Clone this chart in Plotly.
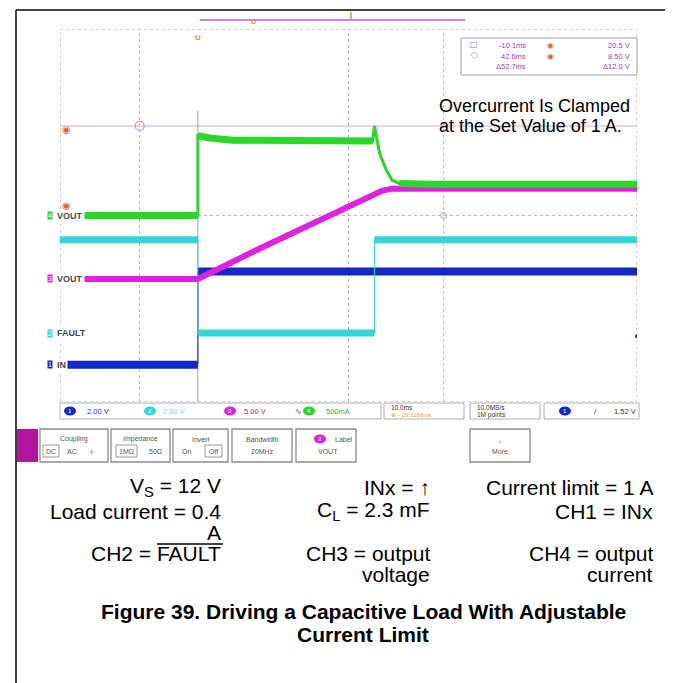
import plotly.graph_objects as go

W, H = 673, 683
FONT = "Liberation Sans, Arial, sans-serif"
OFF = 8  # the page body margin shifts the drawing by 8 px

# ---------------- data ----------------
time_range_ms = [-23.9, 76.1]          # 10 ms/div, 10 divisions

t_ch1 = [-23.9, 0.0, 0.0, 76.1]        # CH1 = INx (V)
v_ch1 = [0.0, 0.0, 5.0, 5.0]

t_ch2 = [-23.9, 0.0, 0.0, 30.6, 30.6, 76.1]   # CH2 = FAULT (V)
v_ch2 = [5.0, 5.0, 0.0, 0.0, 5.0, 5.0]

t_ch3 = [-23.9, 0.0, 10.0, 20.0, 25.0, 30.0, 32.0, 33.7, 76.1]   # CH3 = VOUT (V)
v_ch3 = [0.0, 0.0, 3.8, 7.55, 9.4, 11.2, 11.85, 12.1, 12.1]

t_ch4 = [-23.9, 0.0, 0.0, 2.0, 6.0, 15.0, 25.0, 30.3, 30.6, 31.5, 32.7, 33.7, 34.9, 40.0, 76.1]  # CH4 = IOUT (A)
v_ch4 = [0.0, 0.0, 1.07, 1.04, 1.01, 1.0, 0.99, 1.0, 1.2, 0.83, 0.60, 0.47, 0.43, 0.42, 0.42]

cursor_t_ms = [-10.1, 42.6]
cursor_v = [20.5, 8.5]
trigger_level_v = 1.52

ch_labels = ["IN", "FAULT", "VOUT", "VOUT"]
ch_scale_per_div = [2.0, 2.0, 5.0, 0.5]
ch_scale_text = ["2.00 V", "2.00 V", "5.00 V", "500mA"]
ch_ground_div = [1.0, 1.85, 3.30, 5.0]     # ground marker position (div from bottom)

# ---------------- style ----------------
ch_color = ["#1428c8", "#33d6d6", "#de22de", "#2bd62b"]
ch_width = [8, 7, 6, 7]
ch_thin_width = [1, 1, 1, 3]
ch_thin_span = [None, None, None, (30.3, 34.9)]   # span drawn only with the thinner stroke
ch_axis = ["y2", "y3", "y4", "y5"]
draw_order = [1, 0, 2, 3]

GX0, GX1, GY0, GY1 = 60, 637, 29, 402   # graticule in picture pixels


def X(px):
    return (px - OFF) / W


def Y(py):
    return 1 - (py - OFF) / H


fig = go.Figure()


def thick_path(t, v, span):
    xs, ys = [], []
    prev_t = None
    for ti, vi in zip(t, v):
        if span is not None and span[0] < ti < span[1]:
            if xs and xs[-1] is not None:
                xs.append(None)
                ys.append(None)
            prev_t = None
            continue
        if prev_t is not None and ti == prev_t:
            xs.append(None)
            ys.append(None)
        xs.append(ti)
        ys.append(vi)
        prev_t = ti
    return xs, ys


data_t = [t_ch1, t_ch2, t_ch3, t_ch4]
data_v = [v_ch1, v_ch2, v_ch3, v_ch4]

for i in draw_order:
    xs, ys = thick_path(data_t[i], data_v[i], ch_thin_span[i])
    fig.add_trace(go.Scatter(x=data_t[i], y=data_v[i], yaxis=ch_axis[i], mode="lines",
                             line=dict(color=ch_color[i], width=ch_thin_width[i]), hoverinfo="skip"))
    fig.add_trace(go.Scatter(x=xs, y=ys, yaxis=ch_axis[i], mode="lines",
                             line=dict(color=ch_color[i], width=ch_width[i]), hoverinfo="skip"))

# cursor intersection markers
fig.add_trace(go.Scatter(x=[cursor_t_ms[0]], y=[cursor_v[0]], yaxis="y4", mode="markers",
                         marker=dict(symbol="circle-open", size=9, color="#c98ad6", line=dict(width=1.2)),
                         hoverinfo="skip"))
fig.add_trace(go.Scatter(x=[cursor_t_ms[1]], y=[cursor_v[1]], yaxis="y4", mode="markers",
                         marker=dict(symbol="circle-open", size=6, color="#b8a0c0", line=dict(width=1)),
                         hoverinfo="skip"))
# trigger level marker (right edge)
fig.add_trace(go.Scatter(x=[time_range_ms[1]], y=[trigger_level_v], yaxis="y2", mode="markers",
                         marker=dict(symbol="circle", size=4, color="#1428c8"), hoverinfo="skip"))

shapes = []
ann = []


def note(**kw):
    d = dict(showarrow=False, xanchor="center", yanchor="middle")
    d.update(kw)
    ann.append(d)


def text(x, y, s, size=7.5, color="#444444", xanchor="left", family=FONT):
    note(xref="paper", yref="paper", x=X(x), y=Y(y), xanchor=xanchor, text=s,
         font=dict(family=family, size=size, color=color))


# ---- graticule ----
shapes.append(dict(type="rect", xref="x", yref="y", x0=time_range_ms[0], x1=time_range_ms[1], y0=0, y1=10,
                   line=dict(color="#a8a8a8", width=1, dash="dot"), layer="below"))
tc = (time_range_ms[0] + time_range_ms[1]) / 2
shapes.append(dict(type="line", xref="x", yref="y", x0=tc, x1=tc, y0=0, y1=10,
                   line=dict(color="#a8a8a8", width=1, dash="dot"), layer="below"))
shapes.append(dict(type="line", xref="x", yref="y", x0=time_range_ms[0], x1=time_range_ms[1], y0=5, y1=5,
                   line=dict(color="#b0b0b0", width=1, dash="dot"), layer="below"))
# time cursors
for ct in cursor_t_ms:
    shapes.append(dict(type="line", xref="x", yref="y", x0=ct, x1=ct, y0=0, y1=10,
                       line=dict(color="#b4b4b4", width=1, dash="dot"), layer="below"))
# voltage cursors (on CH3)
shapes.append(dict(type="line", xref="x", yref="y4", x0=time_range_ms[0], x1=time_range_ms[1],
                   y0=cursor_v[0], y1=cursor_v[0], line=dict(color="#cbb0d6", width=1.2), layer="below"))
shapes.append(dict(type="line", xref="x", yref="y4", x0=time_range_ms[0], x1=time_range_ms[1],
                   y0=cursor_v[1], y1=cursor_v[1], line=dict(color="#b8b8b8", width=1, dash="dot"), layer="below"))
# trigger time line
shapes.append(dict(type="line", xref="x", yref="y", x0=0, x1=0, y0=0, y1=7.8,
                   line=dict(color="#a0a0a0", width=1), layer="below"))

# ---- page frame ----
shapes.append(dict(type="line", xref="paper", yref="paper", x0=X(16), x1=1, y0=Y(10), y1=Y(10),
                   line=dict(color="black", width=1.5)))
shapes.append(dict(type="line", xref="paper", yref="paper", x0=X(16), x1=X(16), y0=Y(10), y1=0,
                   line=dict(color="black", width=1.5)))

# ---- record bar on top ----
shapes.append(dict(type="line", xref="paper", yref="paper", x0=X(200), x1=X(465), y0=Y(20), y1=Y(20),
                   line=dict(color="#c58ad0", width=2)))
shapes.append(dict(type="line", xref="paper", yref="paper", x0=X(351), x1=X(351), y0=Y(12), y1=Y(19),
                   line=dict(color="#e8902c", width=1.5)))
text(253, 22, "<b>U</b>", size=7, color="#e8902c", xanchor="center")
note(xref="x", yref="paper", x=0, y=Y(38), text="<b>U</b>", font=dict(family=FONT, size=8, color="#e8902c"))

# ---- channel ground labels ----
for i in range(4):
    note(xref="paper", yref=ch_axis[i], x=X(47), y=0, xanchor="left", text=str(i + 1),
         font=dict(family=FONT, size=7, color="white"), bgcolor=ch_color[i], borderpad=0)
    note(xref="paper", yref=ch_axis[i], x=X(55), y=0, xanchor="left", text="<b>" + ch_labels[i] + "</b>",
         font=dict(family=FONT, size=9, color="#4a4a4a"), bgcolor="white", borderpad=1)

# cursor handles
note(xref="paper", yref="y4", x=X(66), y=cursor_v[0], yshift=-4, text="◉",
     font=dict(family="DejaVu Sans", size=10, color="#e8602c"))
note(xref="paper", yref="y4", x=X(66), y=cursor_v[1], yshift=10, text="◉",
     font=dict(family="DejaVu Sans", size=10, color="#e8602c"))

# ---- cursor readout box ----
shapes.append(dict(type="rect", xref="paper", yref="paper", x0=X(461), x1=X(637), y0=Y(75), y1=Y(38),
                   line=dict(color="#a0a0a0", width=1), fillcolor="white"))
dt = cursor_t_ms[1] - cursor_t_ms[0]
dv = cursor_v[0] - cursor_v[1]
t_rows = [f"{cursor_t_ms[0]:.1f}ms", f"{cursor_t_ms[1]:.1f}ms", f"Δ{dt:.1f}ms"]
v_rows = [f"{cursor_v[0]:.1f} V", f"{cursor_v[1]:.2f} V", f"Δ{dv:.1f} V"]
for k, yy in enumerate([45, 56, 67]):
    text(528, yy, t_rows[k], size=7.5, color="#a83aa8", xanchor="right")
    text(632, yy, v_rows[k], size=7.5, color="#a83aa8", xanchor="right")
for yy in [45, 56]:
    text(550, yy, "◉", size=8, color="#e8602c", xanchor="center", family="DejaVu Sans")
text(474, 44, "□", size=8, color="#a070b0", xanchor="center", family="DejaVu Sans")
text(474, 55, "○", size=8, color="#a070b0", xanchor="center", family="DejaVu Sans")

# ---- callout text ----
text(437, 106, "Overcurrent Is Clamped", size=18, color="black")
text(437, 126, "at the Set Value of 1 A.", size=18, color="black")


# ---- status bar ----
def box(x0, y0, x1, y1, color="#9a9a9a", fill="white", w=1):
    shapes.append(dict(type="rect", xref="paper", yref="paper", x0=X(x0), x1=X(x1), y0=Y(y1), y1=Y(y0),
                       line=dict(color=color, width=w), fillcolor=fill))


def badge(x, y, color, label):
    shapes.append(dict(type="circle", xref="paper", yref="paper", x0=X(x - 6), x1=X(x + 6), y0=Y(y + 4.5),
                       y1=Y(y - 4.5), line=dict(color=color, width=0), fillcolor=color))
    text(x, y, label, size=6, color="white", xanchor="center")


box(60, 403, 381, 419, color="#b0b0b0")
status_x = [[70, 85], [150, 161], [230, 242], [309, 324]]
status_col = ["#2040c0", "#7fdada", "#9a2a9a", "#30b030"]
for i in range(4):
    badge(status_x[i][0], 411, ch_color[i], str(i + 1))
    text(status_x[i][1], 411, ch_scale_text[i], size=7.5, color=status_col[i])
text(293, 411, "∿", size=8, color="#9a2a9a")
box(384, 403, 464, 419, color="#b0b0b0")
text(389, 407, "10.0ms", size=6.5, color="#333333")
text(389, 415, "⊕→29.1166ms", size=6, color="#e0a030")
box(470, 403, 540, 419, color="#b0b0b0")
text(475, 407, "10.0MS/s", size=6.5, color="#333333")
text(475, 415, "1M points", size=6.5, color="#333333")
box(544, 403, 639, 419, color="#b0b0b0")
badge(565, 411, ch_color[0], "1")
text(592, 411, "/", size=8, color="#333333")
text(612, 411, f"{trigger_level_v:.2f} V", size=7.5, color="#333333")

# ---- button row ----
shapes.append(dict(type="rect", xref="paper", yref="paper", x0=X(17), x1=X(38), y0=Y(462), y1=Y(429),
                   line=dict(width=0), fillcolor="#b4159e"))
buttons = [(40, 108, "Coupling"), (111, 170, "Impedance"), (173, 228, "Invert"),
           (232, 292, "Bandwidth"), (296, 356, "Label"), (470, 530, "")]
for x0, x1, lab in buttons:
    box(x0, 429, x1, 462, color="#8c8c8c", w=1.3)
    if lab and lab != "Label":
        text((x0 + x1) / 2, 439, lab, size=7, color="#555555", xanchor="center")
box(43, 445, 59, 457, color="#999999")
text(51, 451, "DC", size=7, color="#555555", xanchor="center")
text(72, 451, "AC", size=7, color="#555555", xanchor="center")
text(91, 451, "⏚", size=7, color="#555555", xanchor="center")
box(116, 445, 137, 457, color="#999999")
text(126.5, 451, "1MΩ", size=7, color="#555555", xanchor="center")
text(155, 451, "50Ω", size=7, color="#555555", xanchor="center")
text(186, 451, "On", size=7, color="#555555", xanchor="center")
box(205, 445, 222, 457, color="#999999")
text(213.5, 451, "Off", size=7, color="#555555", xanchor="center")
text(262, 451, "20MHz", size=7, color="#555555", xanchor="center")
badge(320, 439, ch_color[2], "3")
text(333, 439, "Label", size=7, color="#555555", xanchor="left")
text(328, 451, "VOUT", size=7, color="#555555", xanchor="center")
text(500, 440, "▵", size=7, color="#aaaaaa", xanchor="center")
text(500, 451, "More", size=7, color="#555555", xanchor="center")

# ---- conditions text ----
cols = [223, 432, 655]
rows = [
    (487, ["V<sub>S</sub> = 12 V", "INx = ↑", "Current limit = 1 A"]),
    (511, ["Load current = 0.4", "C<sub>L</sub> = 2.3 mF", "CH1 = INx"]),
    (532, ["A", "", ""]),
    (553, ["CH2 = FAULT", "CH3 = output", "CH4 = output"]),
    (574, ["", "voltage", "current"]),
]
for yy, items in rows:
    for cx, s in zip(cols, items):
        if s:
            text(cx, yy, s, size=21, color="black", xanchor="right")
shapes.append(dict(type="line", xref="paper", yref="paper", x0=X(157), x1=X(223), y0=Y(544), y1=Y(544),
                   line=dict(color="black", width=1.5)))

text(363, 611, "<b>Figure 39. Driving a Capacitive Load With Adjustable</b>", size=21, color="black",
     xanchor="center")
text(363, 634, "<b>Current Limit</b>", size=21, color="black", xanchor="center")

# ---------------- axes ----------------
dom_x = [X(GX0), X(GX1)]
dom_y = [Y(GY1), Y(GY0)]
layout = dict(
    width=W, height=H, margin=dict(l=0, r=0, t=0, b=0),
    paper_bgcolor="white", plot_bgcolor="white", showlegend=False,
    xaxis=dict(domain=dom_x, range=time_range_ms, visible=False, fixedrange=True),
    yaxis=dict(domain=dom_y, range=[0, 10], visible=False, fixedrange=True),
    shapes=shapes, annotations=ann,
)
for i in range(4):
    s, g = ch_scale_per_div[i], ch_ground_div[i]
    layout["yaxis" + ch_axis[i][1:]] = dict(overlaying="y", anchor="x", range=[-g * s, (10 - g) * s],
                                            visible=False, fixedrange=True)
fig.update_layout(**layout)

fig.write_html("out.html")
